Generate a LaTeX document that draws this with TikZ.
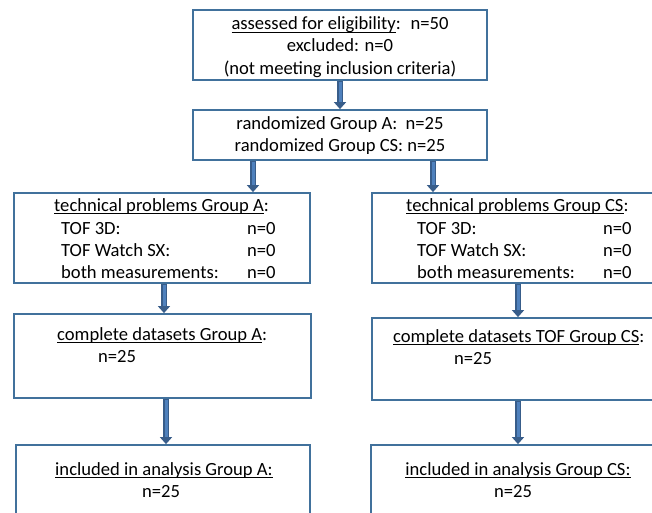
\documentclass[tikz,border=0pt]{standalone}
\usepackage{fontspec}
\setmainfont{Carlito}
\usetikzlibrary{arrows.meta}
\definecolor{boxblue}{RGB}{65,113,156}
\definecolor{arrfill}{RGB}{79,129,189}
\definecolor{arrline}{RGB}{56,93,138}
\newcommand\myul[1]{\setbox0\hbox{#1}\rlap{\rule[-3pt]{\wd0}{1.1pt}}\box0}
\begin{document}
\begin{tikzpicture}[x=1pt,y=-1pt,
  box/.style={draw=boxblue,line width=1.8pt,inner sep=0pt,fill=white},
  txt/.style={inner sep=0pt,font=\fontsize{18.6}{22}\selectfont},
  arr/.style={draw=arrline,line width=6pt,-{Triangle[length=7pt,width=12pt]},
    postaction={draw=arrfill,line width=3pt,-,shorten >=7pt,shorten <=1pt}}]
\useasboundingbox (0,0) rectangle (652,513);
\clip (0,0) rectangle (652,513);
% boxes
\node[box,minimum width=294pt,minimum height=70pt] (top) at (340,45) {};
\node[box,minimum width=294pt,minimum height=50pt] (rand) at (340,135) {};
\node[box,minimum width=296pt,minimum height=90pt] (techA) at (162,238) {};
\node[box,minimum width=320pt,minimum height=90pt] (techCS) at (532,238) {};
\node[box,minimum width=297pt,minimum height=84pt] (compA) at (162.5,356) {};
\node[box,minimum width=320pt,minimum height=82pt] (compCS) at (532,359) {};
\node[box,minimum width=294pt,minimum height=100pt] (inclA) at (163,495) {};
\node[box,minimum width=320pt,minimum height=100pt] (inclCS) at (531,495) {};
% arrows
\draw[arr] (top.south) -- (rand.north);
\draw[arr] ([xshift=-87pt]rand.south) -- ([xshift=-87pt]rand.south |- techA.north);
\draw[arr] ([xshift=93pt]rand.south) -- ([xshift=93pt]rand.south |- techCS.north);
\draw[arr] ([xshift=2pt]techA.south) -- ([xshift=2pt]techA.south |- compA.north);
\draw[arr] (techCS.south -| 518,0) -- (compCS.north -| 518,0);
\draw[arr] (compA.south -| 166,0) -- (inclA.north -| 166,0);
\draw[arr] (compCS.south -| 518,0) -- (inclCS.north -| 518,0);
% texts
\node[txt,anchor=base] (t1) at (340,30) {\myul{assessed for eligibility}: \ n=50};
\node[txt,anchor=base] (t2) at (340,52) {excluded: n=0};
\node[txt,anchor=base] (t3) at (340,75) {(not meeting inclusion criteria)};
\node[txt,anchor=base] (r1) at (340,130) {randomized Group A: \ n=25};
\node[txt,anchor=base] (r2) at (340,152) {randomized Group CS: n=25};
% tech A
\node[txt,anchor=base west] (ta0) at (54,211) {\myul{technical problems Group A}:};
\node[txt,anchor=base west] (ta1) at (61,234) {TOF 3D:};
\node[txt,anchor=base west] (ta2) at (61,256) {TOF Watch SX:};
\node[txt,anchor=base west] (ta3) at (61,278) {both measurements:};
\node[txt,anchor=base west] (ta1v) at (247,234) {n=0};
\node[txt,anchor=base west] (ta2v) at (247,256) {n=0};
\node[txt,anchor=base west] (ta3v) at (247,278) {n=0};
% tech CS
\node[txt,anchor=base west] (tc0) at (406,211) {\myul{technical problems Group CS}:};
\node[txt,anchor=base west] (tc1) at (417,234) {TOF 3D:};
\node[txt,anchor=base west] (tc2) at (417,256) {TOF Watch SX:};
\node[txt,anchor=base west] (tc3) at (417,278) {both measurements:};
\node[txt,anchor=base west] (tc1v) at (603,234) {n=0};
\node[txt,anchor=base west] (tc2v) at (603,256) {n=0};
\node[txt,anchor=base west] (tc3v) at (603,278) {n=0};
% complete
\node[txt,anchor=base west] (ca0) at (57,340) {\myul{complete datasets Group A}:};
\node[txt,anchor=base west] (ca1) at (98,362) {n=25};
\node[txt,anchor=base west] (cc0) at (393,342) {\myul{complete datasets TOF Group CS}:};
\node[txt,anchor=base west] (cc1) at (454,364) {n=25};
% included
\node[txt,anchor=base] (ia0) at (164,475) {\myul{included in analysis Group A:}};
\node[txt,anchor=base] (ia1) at (161,497) {n=25};
\node[txt,anchor=base] (ic0) at (518,475) {\myul{included in analysis Group CS:}};
\node[txt,anchor=base] (ic1) at (513,497) {n=25};
\end{tikzpicture}
\end{document}
